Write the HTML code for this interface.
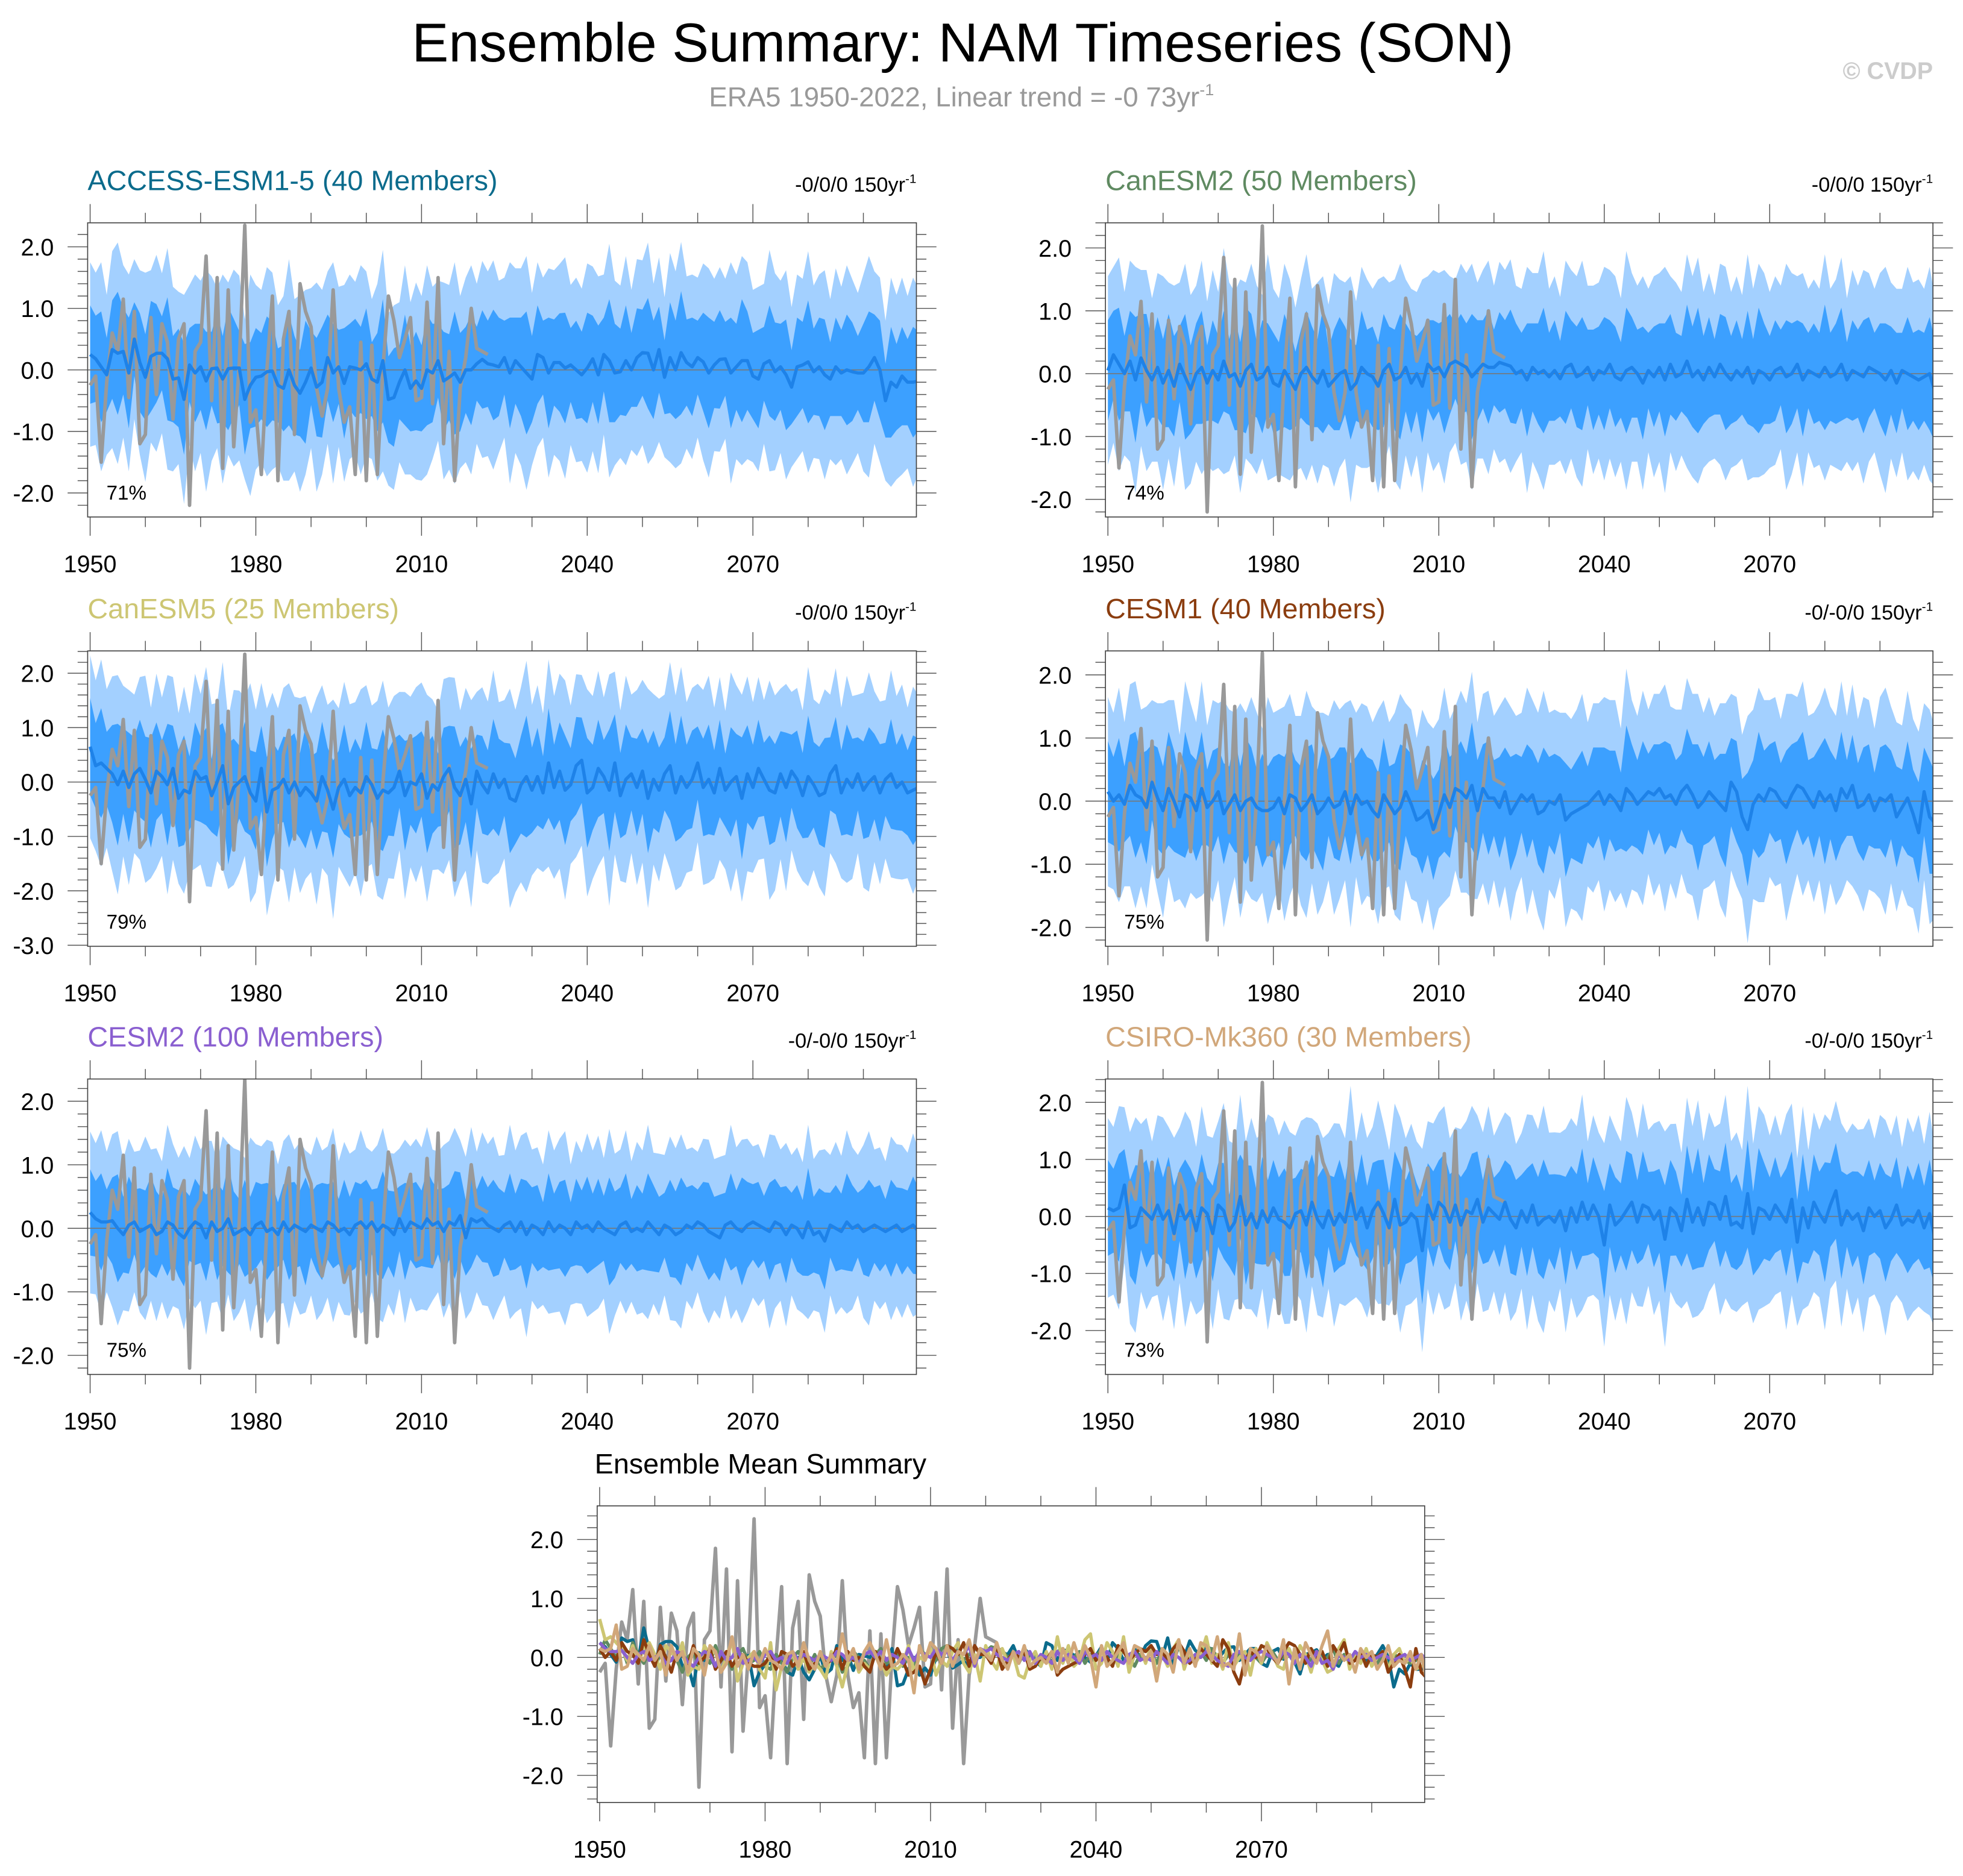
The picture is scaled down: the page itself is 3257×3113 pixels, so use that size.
<!DOCTYPE html>
<html><head><meta charset="utf-8"><title>Ensemble Summary: NAM Timeseries (SON)</title>
<style>html,body{margin:0;padding:0;background:#fff;}svg{display:block;font-family:"Liberation Sans",sans-serif;}</style>
</head><body>
<svg id="fig" xmlns="http://www.w3.org/2000/svg" width="3257" height="3113" viewBox="0 0 1568 1498.7">
<text x="769" y="49" font-size="44" text-anchor="middle" fill="#000">Ensemble Summary: NAM Timeseries (SON)</text>
<text x="768" y="85" font-size="22" text-anchor="middle" fill="#999">ERA5 1950-2022, Linear trend = -0 73yr<tspan dy="-9" font-size="13">-1</tspan></text>
<text x="1544" y="63" font-size="19" font-weight="bold" text-anchor="end" fill="#ccc">© CVDP</text>
<g id="plots"></g>
</svg>
<script>
const years0 = 1950;
const era5 = [-0.25,-0.1,-1.5,-0.2,0.6,0.3,1.15,-0.45,0.95,-1.2,
-1.05,0.85,-0.4,0.75,0.45,-0.8,0.5,0.75,-2.2,0.3,
0.45,1.85,-0.5,1.5,-1.6,1.3,-1.25,0.1,2.35,-0.85,
-0.65,-1.7,0.0,1.2,-1.8,0.5,0.95,-1.05,1.4,0.95,
0.7,-0.3,-0.75,-0.3,1.3,-0.3,-0.85,-0.6,-1.7,0.45,
-1.8,0.4,-1.7,0.0,1.2,0.8,0.2,0.5,0.85,-0.5,
-0.45,1.1,-0.55,1.5,-1.2,0.3,-1.8,-0.3,0.2,1.0,
0.35,0.3,0.25];
const meanAccess = [25,18,5,-8,33,27,30,-5,50,12,-12,22,27,27,18,-15,-13,-48,8,-5,5,-18,2,3,-15,2,3,3,-48,-25,-12,-10,-3,-2,-25,-30,0,-25,-38,-20,3,-28,-20,20,-5,5,-22,5,3,0,10,-15,-20,15,-48,-45,-20,0,-30,-18,-30,0,-5,15,-18,-12,-5,-20,0,0,10,17,10,8,5,20,-5,15,5,-5,-15,25,20,-5,12,12,3,8,0,-8,3,18,-8,25,15,-5,-3,15,0,20,28,27,0,33,-12,20,0,28,12,5,20,13,-5,8,17,18,-5,5,15,15,-10,-15,10,15,-3,5,-8,-28,5,8,13,-3,5,-8,-15,5,-5,0,-3,-5,-5,5,20,0,-50,-20,-28,-10,-20,-20,-18];
const meanCanESM2 = [5,30,15,0,20,-10,25,5,-10,10,-15,5,-20,15,-5,-25,0,10,-15,5,-10,20,-5,0,-20,5,15,-10,-5,10,-15,-20,5,-10,-25,0,10,-5,-15,5,-20,-10,0,5,-25,-15,10,0,-5,-20,5,15,-10,-5,10,-15,0,-20,15,5,10,-5,15,20,15,10,-5,5,15,10,10,18,15,12,0,5,-10,10,0,5,-5,5,-8,10,15,-5,0,10,-10,5,0,15,-5,-10,5,10,0,-15,5,-5,10,-10,15,-5,0,20,-5,5,-10,10,-5,15,0,-10,5,-5,10,-15,5,0,-10,5,10,-5,0,15,-10,5,0,-5,10,-5,0,15,-10,5,0,-5,10,5,0,-10,5,-15,5,0,-5,-10,-5,0,-30];
const meanCanESM5 = [65,30,35,25,15,-5,20,-10,15,25,5,-20,20,10,-5,25,-30,-15,-20,20,5,10,-25,0,30,-40,-10,0,10,-20,-35,25,-55,-15,-10,5,-20,0,-25,-10,-20,-35,10,-15,-50,-10,5,-25,-10,-20,10,-5,-30,-15,-20,-10,20,-25,0,-5,15,-30,-5,-15,10,25,-10,-25,5,-40,20,-5,-20,15,-10,5,-30,-35,-5,10,-15,10,-20,35,-10,20,-15,-5,30,40,-20,-10,25,10,-15,35,-25,5,15,-10,20,-30,5,-15,15,30,-20,10,-10,5,35,-10,5,-20,25,-15,0,10,-30,15,-10,25,5,-15,-20,15,-10,20,5,-25,10,-5,-25,-20,15,30,-20,5,-10,15,-15,0,10,-20,5,15,-10,0,-20,-15,-10];
const meanCESM1 = [15,0,10,-5,25,10,5,-10,30,5,-15,20,0,-25,10,5,-15,20,-10,0,15,-20,-5,10,-15,0,5,-10,-15,-15,-10,5,-20,10,5,-15,-5,10,-20,-10,5,-10,-5,15,-20,10,-5,0,-15,-25,10,-5,-20,-10,15,-5,-30,-25,-15,-45,-20,10,-10,20,15,5,25,-15,20,5,5,-10,15,-20,-5,10,0,10,-20,-15,0,-5,10,-30,-20,-15,-10,-5,5,15,-5,10,0,-15,20,10,-5,5,15,10,20,5,10,-5,15,25,10,-10,0,15,5,-5,-15,30,15,-25,-45,-5,10,0,20,15,0,-10,10,25,20,5,-10,15,0,10,-15,20,5,25,-10,-5,10,-15,5,0,10,-25,-10,5,-20,-50,15,-25,-35];
const meanCESM2 = [25,15,10,10,12,0,-10,5,10,-5,0,5,-10,-5,10,5,-8,-15,0,10,5,-15,10,-5,0,15,-10,-5,0,-10,5,10,-5,0,-10,10,-5,5,0,-5,5,0,-5,10,5,-5,0,-10,5,10,0,10,-5,5,0,-10,15,-5,10,5,0,15,5,10,-5,10,5,20,-15,15,10,15,5,0,-5,5,10,-5,10,-10,5,0,-10,10,-5,5,0,-10,10,0,5,-5,10,0,-5,-10,5,10,-5,0,-5,10,0,-10,5,0,-10,-5,5,0,10,5,-5,-10,-15,5,10,0,-5,5,10,5,0,-5,10,5,-10,5,0,-15,10,-10,-5,-20,5,0,-5,10,0,5,-5,0,5,0,-5,0,5,-5,0,5,-5];
const meanCSIRO = [15,10,15,55,-20,-15,15,5,-5,20,-5,10,-30,20,-5,10,-25,15,5,-30,20,10,-25,-10,35,-15,5,-20,10,-10,15,-5,-10,-20,5,10,-15,25,-5,-20,10,-15,5,-10,40,-5,15,-20,10,25,5,-20,30,-15,-10,5,-5,-60,20,-5,25,15,-10,20,-15,10,5,30,-10,15,5,-5,25,-5,-20,10,-10,20,-15,-5,0,-10,10,-25,15,-10,25,-5,20,0,-50,20,-15,-5,10,25,-10,20,15,-5,10,-40,15,5,-25,30,-10,15,-15,25,20,-5,35,-15,-10,-20,40,-30,15,10,-5,20,5,-10,30,-45,15,-20,25,5,-10,20,45,-15,10,-5,5,-25,15,0,10,-20,-5,20,-15,-5,-10,10,-20,5,-40];
const innerSpread = [8,7,9,6,8,10,7,9,6,8,7,9,8,6,10,7,8,9,6,8,7,8,6,9,7,10,8,6,9,7,8,7,9,8,6,7,9,8,7,10,6,8,9,7,8,6,9,7,8,7,9,6,8,10,7,8,6,9,7,8,7,9,8,6,8,7,10,8,7,9,6,8,7,9,8,6,9,7,8,10,7,8,6,9,7,8,9,6,8,7,9,7,8,6,10,8,7,9,6,8,7,9,8,7,6,9,8,10,7,8,6,8,9,7,8,6,9,7,10,8,7,8,6,9,8,7,9,6,8,7,10,7,8,9,6,8,7,9,8,6,8,9,7,8,6,9,7,8,7,9,8];
const outerSpread = [15,14,17,13,16,18,14,16,13,15,17,14,16,13,18,15,14,17,13,16,14,18,15,13,17,14,16,15,13,18,15,14,17,16,13,15,18,14,16,15,13,17,15,14,18,13,16,15,14,17,15,13,16,18,14,15,13,17,14,16,15,17,14,13,16,15,18,14,15,17,13,16,15,17,14,13,18,15,16,19,14,15,13,17,15,16,18,13,15,14,17,15,16,13,19,15,14,17,13,16,15,18,14,15,13,17,16,18,14,15,13,16,17,14,15,13,18,15,17,16,14,15,13,18,16,14,17,13,15,14,18,14,15,17,13,16,14,17,15,13,16,18,14,15,13,17,15,16,14,17,15];
const modelNames = ["ACCESS-ESM1-5 (40 Members)","CanESM2 (50 Members)","CanESM5 (25 Members)","CESM1 (40 Members)","CESM2 (100 Members)","CSIRO-Mk360 (30 Members)"];
const modelColors = ["#0b6b8c","#5f8a61","#cdc673","#8b3d0f","#8a5fd0","#d1a77a"];
const modelMeans = [meanAccess,meanCanESM2,meanCanESM5,meanCESM1,meanCESM2,meanCSIRO];
const spreadScale = [1.0,1.0,1.12,1.0,0.85,1.05];
const trendLabels = ["-0/0/0 150yr","-0/0/0 150yr","-0/0/0 150yr","-0/-0/0 150yr","-0/-0/0 150yr","-0/-0/0 150yr"];
const pctLabels = ["71%","74%","79%","75%","75%","73%"];
const xTickLabels = [1950,1980,2010,2040,2070];
const yRanges = [[-2.39,2.39],[-2.28,2.4],[-3.02,2.41],[-2.3,2.38],[-2.3,2.35],[-2.77,2.41]];
const yTickSets = [[2,1,0,-1,-2],[2,1,0,-1,-2],[2,1,0,-1,-2,-3],[2,1,0,-1,-2],[2,1,0,-1,-2],[2,1,0,-1,-2]];

const NS = "http://www.w3.org/2000/svg";
const root = document.getElementById("plots");
function mk(tag, attrs, parent){const e=document.createElementNS(NS,tag);for(const k in attrs)e.setAttribute(k,attrs[k]);(parent||root).appendChild(e);return e;}
const XMIN=1949.55, XMAX=2099.6;

function drawAxes(g,b,ymin,ymax,yticks,name){
  const sx=v=>b.x0+(v-XMIN)/(XMAX-XMIN)*(b.x1-b.x0);
  const sy=v=>b.y1-(v-ymin)/(ymax-ymin)*(b.y1-b.y0);
  let d="";
  for(let yr=1950;yr<=2090;yr+=10){const x=sx(yr);const L=(yr-1950)%30===0?15:8;d+=`M${x},${b.y0}V${b.y0-L}M${x},${b.y1}V${b.y1+L}`;}
  for(let k=Math.ceil(ymin*5);k<=Math.floor(ymax*5);k++){const y=sy(k/5);const L=k%5===0?16:8;d+=`M${b.x0},${y}H${b.x0-L}M${b.x1},${y}H${b.x1+L}`;}
  const t=mk("path",{d:d,stroke:"#555","stroke-width":0.7,fill:"none"},g);
  
  
  xTickLabels.forEach(v=>{const e=mk("text",{x:sx(v),y:b.y1+44,"font-size":19,"text-anchor":"middle"},g);e.textContent=v;
    
    });
  yticks.forEach(v=>{const e=mk("text",{x:b.x0-27,y:sy(v)+7,"font-size":19,"text-anchor":"end"},g);e.textContent=v.toFixed(1);
    
    });
  return {sx,sy};
}
function linePath(arr,sx,sy,f){return arr.map((v,i)=>(i?"L":"M")+sx(years0+i).toFixed(2)+","+sy(f(v)).toFixed(2)).join("");}
function bandPath(mean,spread,sc,sx,sy){
  const up=mean.map((m,i)=>[sx(years0+i),sy(m/100+spread[i]/10*sc)]);
  const lo=mean.map((m,i)=>[sx(years0+i),sy(m/100-spread[i]/10*sc)]).reverse();
  return "M"+up.concat(lo).map(p=>p[0].toFixed(2)+","+p[1].toFixed(2)).join("L")+"Z";
}

const cols=[[70,732],[883,1544]];const rows=[[178,413],[520,756],[862,1098]];
for(let m=0;m<6;m++){
  const b={x0:cols[m%2][0],x1:cols[m%2][1],y0:rows[Math.floor(m/2)][0],y1:rows[Math.floor(m/2)][1]};
  const g=mk("g",{});
  
  
  const [ymin,ymax]=yRanges[m];
  const clipId="clip"+m;
  const cp=mk("clipPath",{id:clipId},g);mk("rect",{x:b.x0,y:b.y0,width:b.x1-b.x0,height:b.y1-b.y0},cp);
  const {sx,sy}=drawAxes(g,b,ymin,ymax,yTickSets[m],"panel-"+m);
  const cg=mk("g",{"clip-path":`url(#${clipId})`},g);
  const ob=mk("path",{d:bandPath(modelMeans[m],outerSpread,spreadScale[m],sx,sy),fill:"#a3d0ff"},cg);
  
  
  const ib=mk("path",{d:bandPath(modelMeans[m],innerSpread,spreadScale[m],sx,sy),fill:"#3ca0ff"},cg);
  
  
  const z=mk("line",{x1:b.x0,x2:b.x1,y1:sy(0),y2:sy(0),stroke:"#777","stroke-width":0.8},cg);
  
  
  const ob2=mk("path",{d:linePath(era5,sx,sy,v=>v),stroke:"#999",fill:"none","stroke-width":2.8,"stroke-linejoin":"round"},cg);
  
  
  const ml=mk("path",{d:linePath(modelMeans[m],sx,sy,v=>v/100),stroke:"#1e82e8",fill:"none","stroke-width":2.6,"stroke-linejoin":"round"},cg);
  
  
  const bx=mk("rect",{x:b.x0,y:b.y0,width:b.x1-b.x0,height:b.y1-b.y0,fill:"none",stroke:"#444","stroke-width":0.8},g);
  
  
  const tt=mk("text",{x:b.x0,y:b.y0-26,"font-size":22.5,fill:modelColors[m]},g);tt.textContent=modelNames[m];
  
  
  const tr=mk("text",{x:b.x1,y:b.y0-25,"font-size":16.5,"text-anchor":"end"},g);tr.textContent=trendLabels[m];
  const sp=mk("tspan",{dy:-7,"font-size":10},tr);sp.textContent="-1";
  
  
  const pc=mk("text",{x:b.x0+15,y:b.y1-14,"font-size":16},g);pc.textContent=pctLabels[m];
  
  
}
// summary panel
(function(){
  const b={x0:477,x1:1138,y0:1203,y1:1440};
  const g=mk("g",{});
  
  
  const ymin=-2.46,ymax=2.57;
  const cp=mk("clipPath",{id:"clipS"},g);mk("rect",{x:b.x0,y:b.y0,width:b.x1-b.x0,height:b.y1-b.y0},cp);
  const {sx,sy}=drawAxes(g,b,ymin,ymax,[2,1,0,-1,-2],"summary");
  const cg=mk("g",{"clip-path":"url(#clipS)"},g);
  const z=mk("line",{x1:b.x0,x2:b.x1,y1:sy(0),y2:sy(0),stroke:"#777","stroke-width":0.8},cg);
  
  
  const e=mk("path",{d:linePath(era5,sx,sy,v=>v),stroke:"#999",fill:"none","stroke-width":2.8,"stroke-linejoin":"round"},cg);
  
  
  for(let m=0;m<6;m++){
    const l=mk("path",{d:linePath(modelMeans[m],sx,sy,v=>v/100),stroke:modelColors[m],fill:"none","stroke-width":2.6,"stroke-linejoin":"round"},cg);
    
    
  }
  const bx=mk("rect",{x:b.x0,y:b.y0,width:b.x1-b.x0,height:b.y1-b.y0,fill:"none",stroke:"#444","stroke-width":0.8},g);
  
  
  const t=mk("text",{x:475,y:1177,"font-size":22.5},g);t.textContent="Ensemble Mean Summary";
  
  
})();
</script>
</body></html>
